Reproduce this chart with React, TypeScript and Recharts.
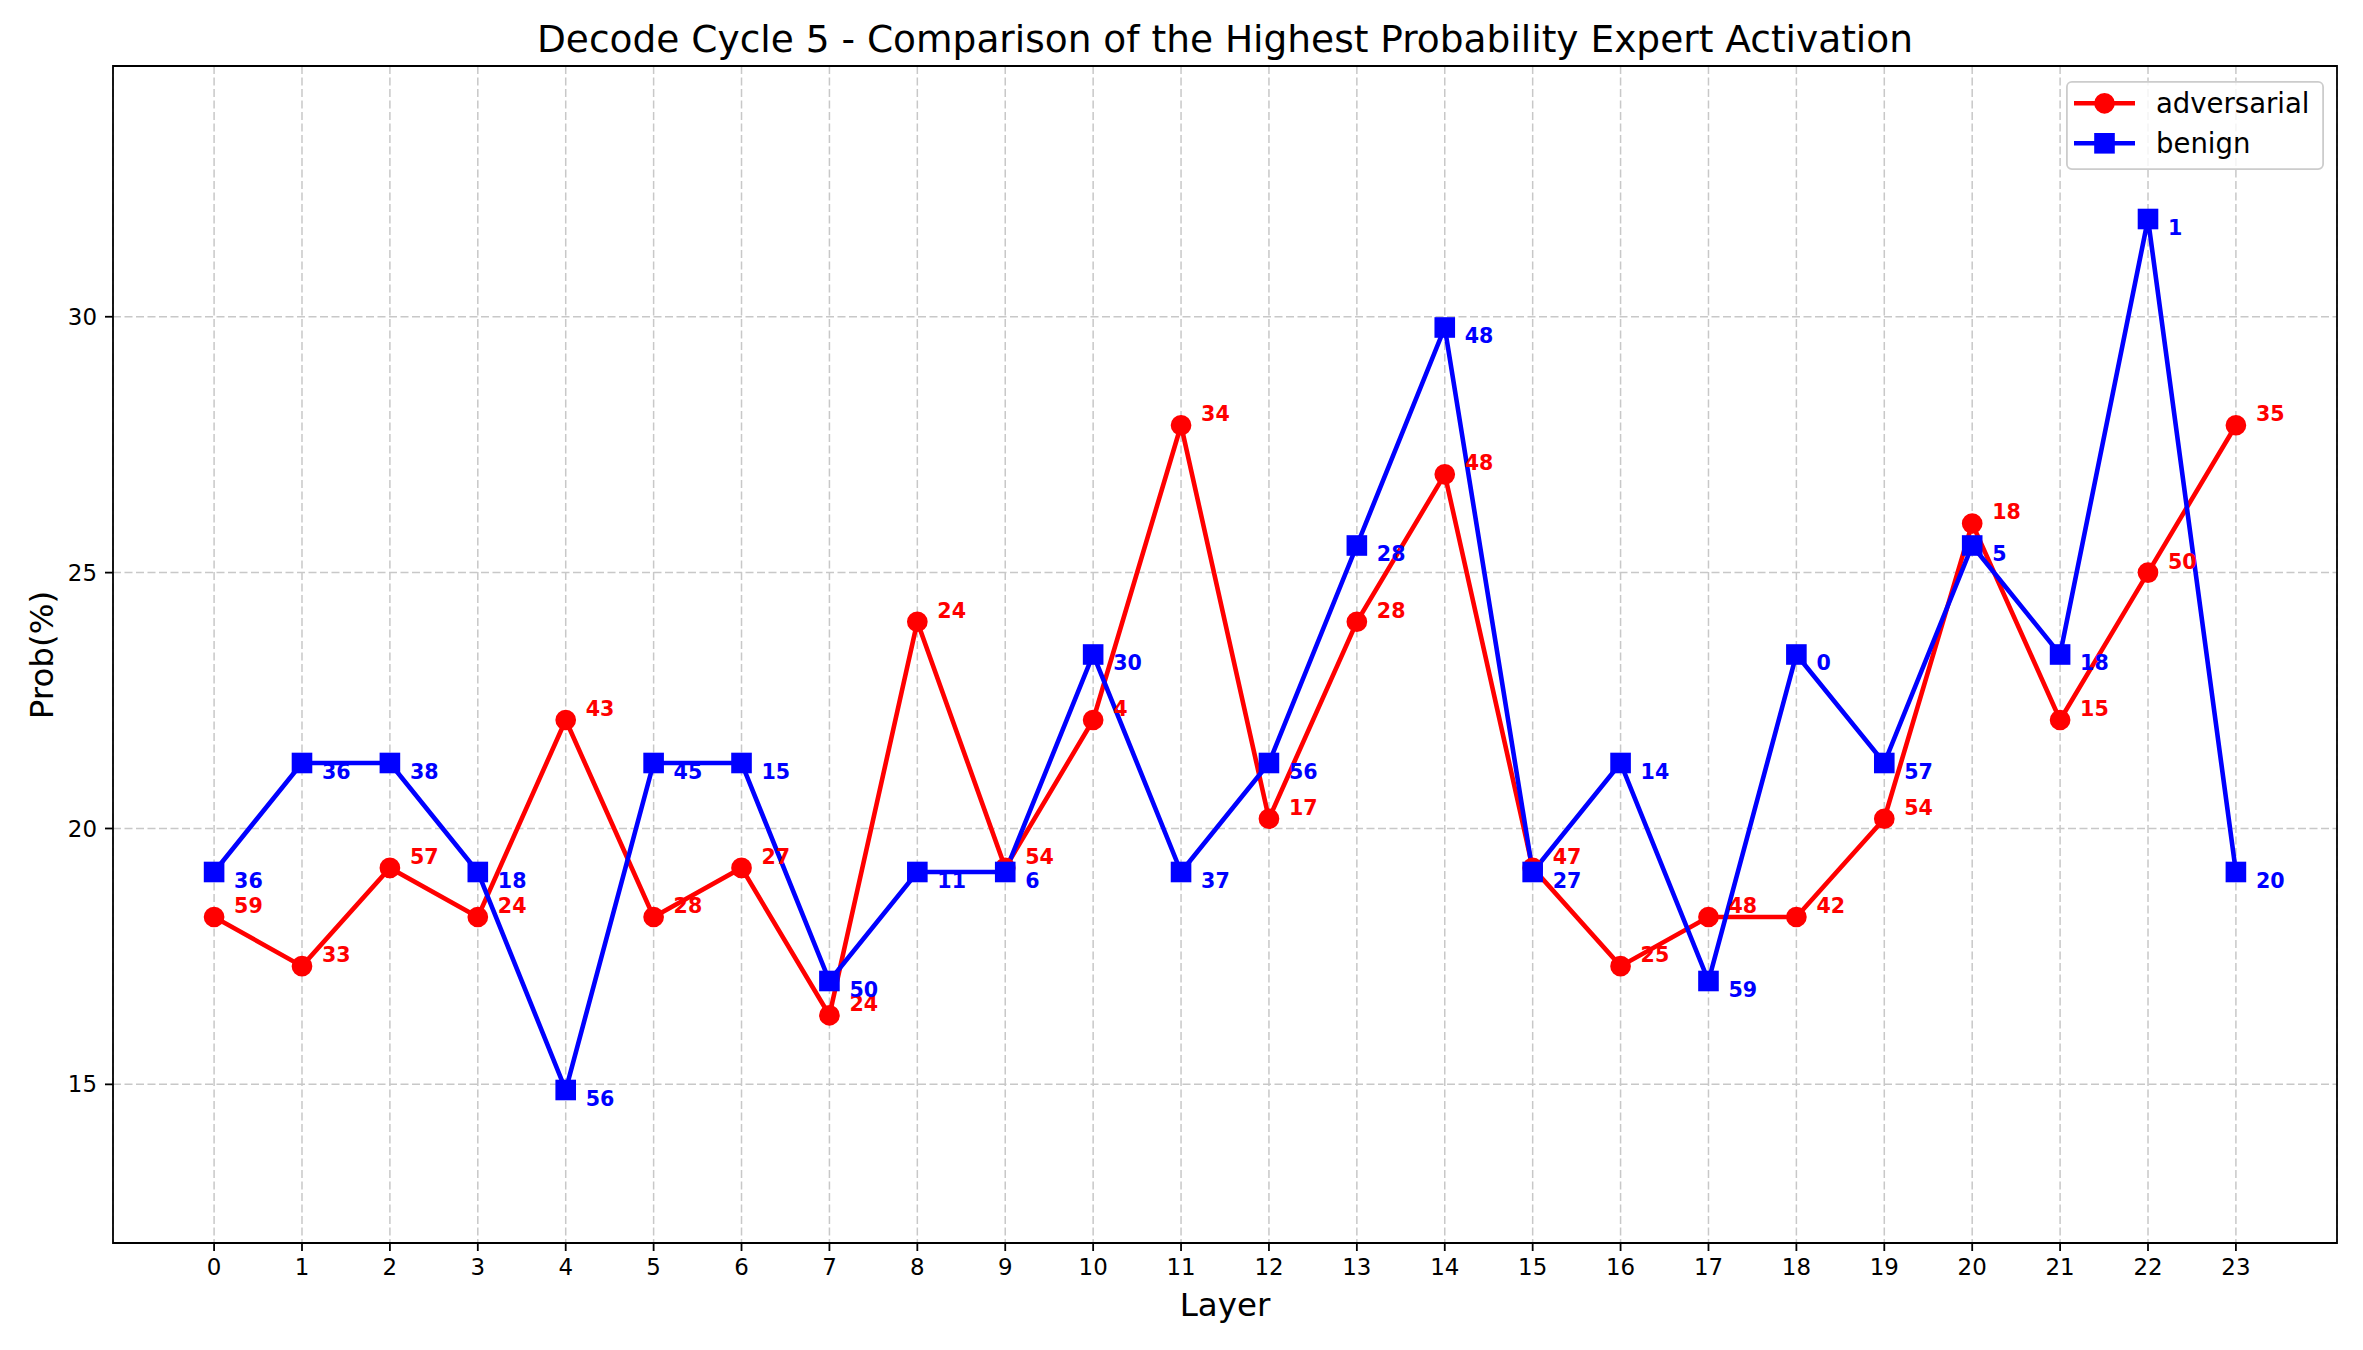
import React from "react";
import {
  LineChart,
  Line,
  XAxis,
  YAxis,
  CartesianGrid,
  ReferenceArea,
  Legend,
  LabelList,
} from "recharts";

const layers = [0, 1, 2, 3, 4, 5, 6, 7, 8, 9, 10, 11, 12, 13, 14, 15, 16, 17, 18, 19, 20, 21, 22, 23];
const adversarialProb = [
  18.27, 17.31, 19.23, 18.27, 22.12, 18.27, 19.23, 16.35, 24.04, 19.23, 22.12, 27.88,
  20.19, 24.04, 26.92, 19.23, 17.31, 18.27, 18.27, 20.19, 25.96, 22.12, 25.0, 27.88,
];
const benignProb = [
  19.15, 21.28, 21.28, 19.15, 14.89, 21.28, 21.28, 17.02, 19.15, 19.15, 23.4, 19.15,
  21.28, 25.53, 29.79, 19.15, 21.28, 17.02, 23.4, 21.28, 25.53, 23.4, 31.91, 19.15,
];
const adversarialExpert = [59, 33, 57, 24, 43, 28, 27, 24, 24, 54, 4, 34, 17, 28, 48, 47, 25, 48, 42, 54, 18, 15, 50, 35];
const benignExpert = [36, 36, 38, 18, 56, 45, 15, 50, 11, 6, 30, 37, 56, 28, 48, 27, 14, 59, 0, 57, 5, 18, 1, 20];
const yTicks = [15, 20, 25, 30];

const X_DOMAIN = [-1.15, 24.15];
const Y_DOMAIN = [11.9, 34.9];

const data = layers.map((layer, i) => ({
  layer,
  adversarial: adversarialProb[i],
  benign: benignProb[i],
  advExpert: adversarialExpert[i],
  benExpert: benignExpert[i],
}));

const FONT = "DejaVu Sans";
const RED = "#ff0000";
const BLUE = "#0000ff";

const renderSquare = (p: any) => {
  if (p.cx == null || p.cy == null) return <g key={p.index} />;
  return (
    <rect
      key={p.index}
      x={p.cx - 9.15}
      y={p.cy - 9.15}
      width={18.3}
      height={18.3}
      fill={BLUE}
      stroke={BLUE}
      strokeWidth={2.3}
    />
  );
};

// expert id next to each point (red above-right, blue below-right)
const expertLabel = (color: string, dy: number) => (p: any) => (
  <text
    key={p.index}
    x={p.x + 20}
    y={p.y + dy}
    fill={color}
    fontFamily={FONT}
    fontWeight="bold"
    fontSize={20.6}
  >
    {p.value}
  </text>
);

const LegendBox = () => (
  <svg width={258} height={89} style={{ display: "block" }}>
    <rect x={0.9} y={0.9} width={256.2} height={87.2} rx={5} fill="#ffffff" fillOpacity={0.8} stroke="#cccccc" strokeWidth={1.8} />
    <line x1={8} y1={22.3} x2={69} y2={22.3} stroke={RED} strokeWidth={4.6} />
    <circle cx={38.5} cy={22.3} r={9.2} fill={RED} stroke={RED} strokeWidth={2.3} />
    <text x={90} y={32} fontFamily={FONT} fontSize={27.5} fill="#000">adversarial</text>
    <line x1={8} y1={62.3} x2={69} y2={62.3} stroke={BLUE} strokeWidth={4.6} />
    <rect x={38.5 - 9.15} y={62.3 - 9.15} width={18.3} height={18.3} fill={BLUE} stroke={BLUE} strokeWidth={2.3} />
    <text x={90} y={72} fontFamily={FONT} fontSize={27.5} fill="#000">benign</text>
  </svg>
);

const tickStyle = { fontFamily: FONT, fontSize: 22.9, fill: "#000" };

export default function App() {
  return (
    <div style={{ position: "absolute", left: 0, top: 0, width: 2363, height: 1350, background: "#fff" }}>
      <LineChart
        width={2363}
        height={1350}
        data={data}
        margin={{ top: 66, right: 26, bottom: 57, left: 33 }}
      >
        <text x={1225} y={51.7} textAnchor="middle" fontFamily={FONT} fontSize={37.5} fill="#000">
          Decode Cycle 5 - Comparison of the Highest Probability Expert Activation
        </text>
        <CartesianGrid stroke="#c8c8c8" strokeWidth={1.5} strokeDasharray="8 3.5" />
        <XAxis
          dataKey="layer"
          type="number"
          domain={X_DOMAIN}
          ticks={layers}
          allowDataOverflow
          interval={0}
          height={50}
          axisLine={false}
          tickSize={8}
          tickMargin={8}
          tickLine={{ stroke: "#000", strokeWidth: 1.8 }}
          tick={tickStyle}
          label={{
            value: "Layer",
            position: "bottom",
            offset: 0,
            style: { fontFamily: FONT, fontSize: 32.5, fill: "#000" },
          }}
        />
        <YAxis
          type="number"
          domain={Y_DOMAIN}
          ticks={yTicks}
          allowDataOverflow
          width={80}
          axisLine={false}
          tickSize={8}
          tickMargin={8}
          tickLine={{ stroke: "#000", strokeWidth: 1.8 }}
          tick={tickStyle}
          label={() => (
            <text
              x={53}
              y={655}
              transform="rotate(-90 53 655)"
              textAnchor="middle"
              fontFamily={FONT}
              fontSize={32.5}
              fill="#000"
            >
              Prob(%)
            </text>
          )}
        />
        <ReferenceArea
          x1={X_DOMAIN[0]}
          x2={X_DOMAIN[1]}
          y1={Y_DOMAIN[0]}
          y2={Y_DOMAIN[1]}
          fill="none"
          stroke="#000"
          strokeWidth={1.8}
          ifOverflow="visible"
        />
        <Line
          dataKey="adversarial"
          name="adversarial"
          stroke={RED}
          strokeWidth={4.6}
          dot={{ r: 9.2, fill: RED, stroke: RED, strokeWidth: 2.3 }}
          activeDot={false}
          isAnimationActive={false}
        />
        <Line
          dataKey="benign"
          name="benign"
          stroke={BLUE}
          strokeWidth={4.6}
          dot={renderSquare}
          activeDot={false}
          isAnimationActive={false}
        />
        {/* label-only series so the annotations sit on top of both lines */}
        <Line
          dataKey="adversarial"
          stroke="none"
          dot={false}
          activeDot={false}
          legendType="none"
          isAnimationActive={false}
        >
          <LabelList dataKey="advExpert" content={expertLabel(RED, -4)} />
        </Line>
        <Line
          dataKey="benign"
          stroke="none"
          dot={false}
          activeDot={false}
          legendType="none"
          isAnimationActive={false}
        >
          <LabelList dataKey="benExpert" content={expertLabel(BLUE, 15.8)} />
        </Line>
        <Legend
          layout="vertical"
          align="center"
          verticalAlign="middle"
          content={() => <LegendBox />}
          wrapperStyle={{ left: 2066, top: 81, width: 258, height: 89 }}
        />
      </LineChart>
    </div>
  );
}
